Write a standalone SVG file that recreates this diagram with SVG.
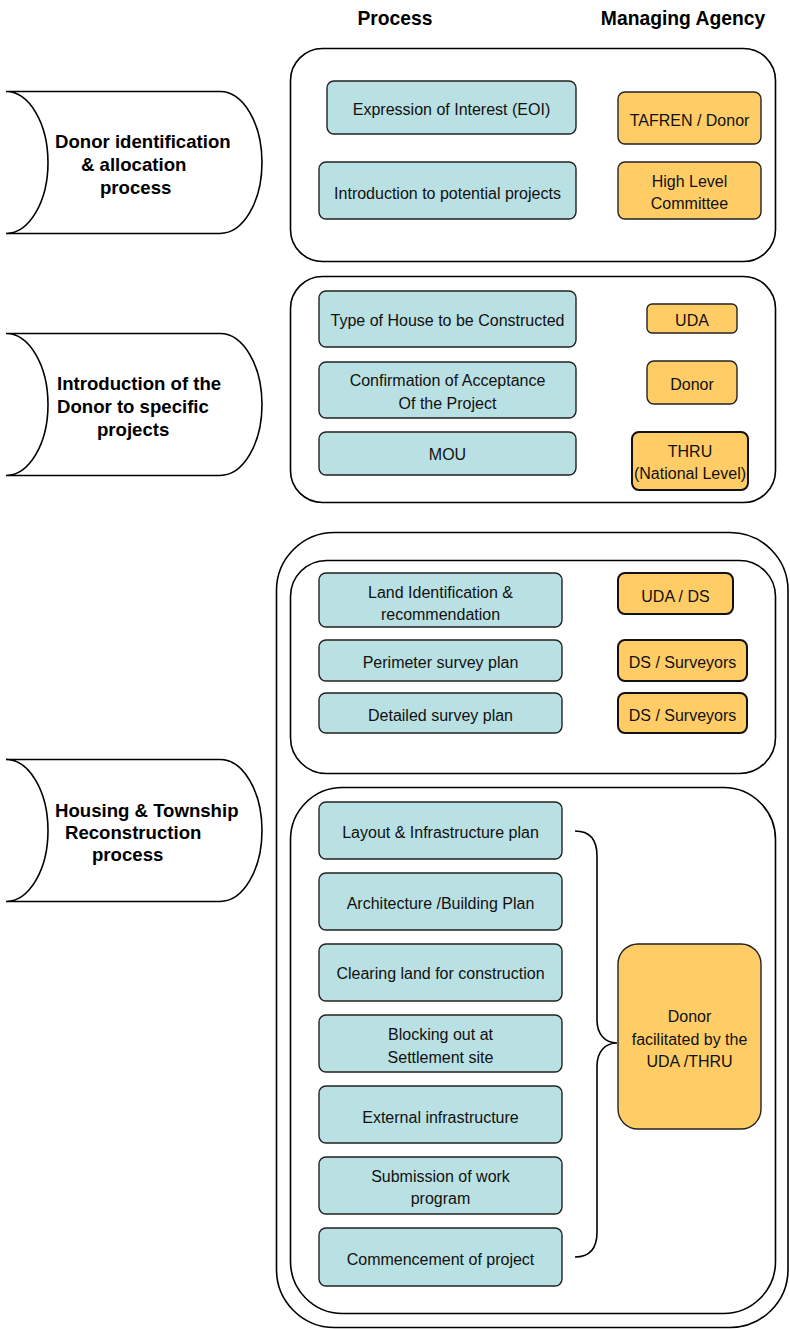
<svg xmlns="http://www.w3.org/2000/svg" width="790" height="1329" viewBox="0 0 790 1329">
<style>
  .hdr{font-family:"Liberation Sans",Arial,sans-serif;font-weight:bold;font-size:19.3px;fill:#000;text-anchor:middle}
  .lbl{font-family:"Liberation Sans",Arial,sans-serif;font-weight:bold;font-size:18.6px;fill:#000}
  .cont{fill:#fff;stroke:#000;stroke-width:1.6}
  .stage{fill:#fff;stroke:#000;stroke-width:1.6}
  .proc{fill:#b9e0e2;stroke:#222;stroke-width:1.4}
  .agency{fill:#ffcc66;stroke:#222;stroke-width:1.4}
  .agency2{fill:#ffcc66;stroke:#111;stroke-width:2}
  .t{font-family:"Liberation Sans",Arial,sans-serif;font-size:16px;fill:#111;text-anchor:middle}
  .brace{fill:none;stroke:#000;stroke-width:1.6}
</style>
<rect width="790" height="1329" fill="#fff"/>
<g id="headers">
  <text class="hdr" x="395" y="25">Process</text>
  <text class="hdr" x="683" y="25">Managing Agency</text>
</g>
<g id="stage1">
  <path class="stage" d="M6 91.5 L220 91.5 A42 71 0 0 1 220 233.5 L6 233.5 A42 71 0 0 0 6 91.5 Z"/>
  <text class="lbl" x="55" y="148">Donor identification</text>
  <text class="lbl" x="81" y="171">&amp; allocation</text>
  <text class="lbl" x="100" y="194">process</text>
</g>
<g id="stage2">
  <path class="stage" d="M6 333.5 L220 333.5 A42 71 0 0 1 220 475.5 L6 475.5 A42 71 0 0 0 6 333.5 Z"/>
  <text class="lbl" x="57" y="390">Introduction of the</text>
  <text class="lbl" x="57" y="413">Donor to specific</text>
  <text class="lbl" x="97" y="436">projects</text>
</g>
<g id="stage3">
  <path class="stage" d="M6 759.5 L220 759.5 A42 71 0 0 1 220 901.5 L6 901.5 A42 71 0 0 0 6 759.5 Z"/>
  <text class="lbl" x="55" y="817">Housing &amp; Township</text>
  <text class="lbl" x="65" y="839">Reconstruction</text>
  <text class="lbl" x="92" y="861">process</text>
</g>
<g id="container1"><rect class="cont" x="290.5" y="48.5" width="485" height="213" rx="32"/></g>
<g id="container2"><rect class="cont" x="290.5" y="276.5" width="485" height="226" rx="32"/></g>
<g id="container3"><rect class="cont" x="276.5" y="532.5" width="511.5" height="795" rx="58"/></g>
<g id="container3a"><rect class="cont" x="290.5" y="560.5" width="485" height="213" rx="36"/></g>
<g id="container3b"><rect class="cont" x="290.5" y="787.5" width="485" height="526" rx="52"/></g>

<g id="p-eoi"><rect class="proc" x="327" y="81" width="249" height="53" rx="7"/><text class="t" x="451.5" y="115">Expression of Interest (EOI)</text></g>
<g id="p-intro"><rect class="proc" x="319" y="162" width="257" height="57" rx="7"/><text class="t" x="447.5" y="199">Introduction to potential projects</text></g>
<g id="a-tafren"><rect class="agency" x="618" y="92" width="143" height="52" rx="7"/><text class="t" x="689.5" y="126">TAFREN / Donor</text></g>
<g id="a-hlc"><rect class="agency" x="618" y="162" width="143" height="57" rx="7"/><text class="t" x="689.5" y="187">High Level</text><text class="t" x="689.5" y="209">Committee</text></g>

<g id="p-type"><rect class="proc" x="319" y="291" width="257" height="56" rx="7"/><text class="t" x="447.5" y="326">Type of House to be Constructed</text></g>
<g id="p-confirm"><rect class="proc" x="319" y="362" width="257" height="56" rx="7"/><text class="t" x="447.5" y="386">Confirmation of Acceptance</text><text class="t" x="447.5" y="409">Of the Project</text></g>
<g id="p-mou"><rect class="proc" x="319" y="432" width="257" height="43" rx="7"/><text class="t" x="447.5" y="460">MOU</text></g>
<g id="a-uda"><rect class="agency" x="647" y="304" width="90" height="29" rx="5"/><text class="t" x="692" y="326">UDA</text></g>
<g id="a-donor"><rect class="agency" x="647" y="361" width="90" height="43" rx="7"/><text class="t" x="692" y="390">Donor</text></g>
<g id="a-thru"><rect class="agency2" x="632" y="432" width="116" height="58" rx="7"/><text class="t" x="690" y="457">THRU</text><text class="t" x="690" y="479">(National Level)</text></g>

<g id="p-land"><rect class="proc" x="319" y="573" width="243" height="54" rx="7"/><text class="t" x="440.5" y="598">Land Identification &amp;</text><text class="t" x="440.5" y="620">recommendation</text></g>
<g id="p-perimeter"><rect class="proc" x="319" y="640" width="243" height="41" rx="7"/><text class="t" x="440.5" y="668">Perimeter survey plan</text></g>
<g id="p-detailed"><rect class="proc" x="319" y="693" width="243" height="40" rx="7"/><text class="t" x="440.5" y="721">Detailed survey plan</text></g>
<g id="a-udads"><rect class="agency2" x="618" y="573" width="115" height="41" rx="7"/><text class="t" x="675.5" y="602">UDA / DS</text></g>
<g id="a-ds1"><rect class="agency2" x="618" y="640" width="129" height="41" rx="7"/><text class="t" x="682.5" y="668">DS / Surveyors</text></g>
<g id="a-ds2"><rect class="agency2" x="618" y="693" width="129" height="40" rx="7"/><text class="t" x="682.5" y="721">DS / Surveyors</text></g>

<g id="p-layout"><rect class="proc" x="319" y="802" width="243" height="57" rx="7"/><text class="t" x="440.5" y="838">Layout &amp; Infrastructure plan</text></g>
<g id="p-arch"><rect class="proc" x="319" y="873" width="243" height="57" rx="7"/><text class="t" x="440.5" y="909">Architecture /Building Plan</text></g>
<g id="p-clearing"><rect class="proc" x="319" y="944" width="243" height="57" rx="7"/><text class="t" x="440.5" y="979">Clearing land for construction</text></g>
<g id="p-blocking"><rect class="proc" x="319" y="1015" width="243" height="57" rx="7"/><text class="t" x="440.5" y="1040">Blocking out at</text><text class="t" x="440.5" y="1063">Settlement site</text></g>
<g id="p-external"><rect class="proc" x="319" y="1086" width="243" height="57" rx="7"/><text class="t" x="440.5" y="1123">External infrastructure</text></g>
<g id="p-submission"><rect class="proc" x="319" y="1157" width="243" height="57" rx="7"/><text class="t" x="440.5" y="1182">Submission of work</text><text class="t" x="440.5" y="1204">program</text></g>
<g id="p-commence"><rect class="proc" x="319" y="1228" width="243" height="58" rx="7"/><text class="t" x="440.5" y="1265">Commencement of project</text></g>
<g id="a-donorfac"><rect class="agency" x="618" y="944" width="143" height="185" rx="20"/><text class="t" x="689.5" y="1022">Donor</text><text class="t" x="689.5" y="1045">facilitated by the</text><text class="t" x="689.5" y="1067">UDA /THRU</text></g>

<g id="connectors">
  <path class="brace" d="M575 831 C590 831 597 840 597 856 L597 1020 C597 1034 605 1043 617 1043 C605 1043 597 1052 597 1066 L597 1232 C597 1248 590 1257 575 1257"/>
</g>
</svg>
